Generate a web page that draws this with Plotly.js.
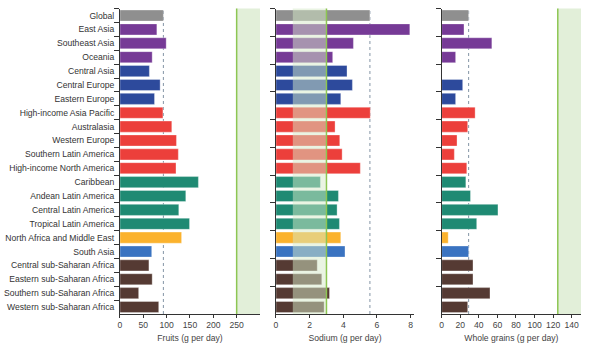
<!DOCTYPE html>
<html><head><meta charset="utf-8">
<script src="https://cdn.plot.ly/plotly-3.0.1.min.js"></script>
<style>html,body{margin:0;padding:0;background:#fff}#c{width:594px;height:353px}</style>
</head><body><div id="c"></div>
<script>
const regions = ["Global","East Asia","Southeast Asia","Oceania","Central Asia","Central Europe","Eastern Europe",
"High-income Asia Pacific","Australasia","Western Europe","Southern Latin America","High-income North America",
"Caribbean","Andean Latin America","Central Latin America","Tropical Latin America","North Africa and Middle East",
"South Asia","Central sub-Saharan Africa","Eastern sub-Saharan Africa","Southern sub-Saharan Africa","Western sub-Saharan Africa"];
const superRegion = ["global","seao","seao","seao","cee","cee","cee","hi","hi","hi","hi","hi",
"latin","latin","latin","latin","name","sa","ssa","ssa","ssa","ssa"];
const fruits = [93,79,99,69,63,86,74,92,111,121,125,120,168,141,126,149,132,68,62,69,40,83];
const sodium = [5.58,7.95,4.6,3.37,4.22,4.54,3.85,5.6,3.51,3.79,3.93,5.01,2.64,3.71,3.63,3.77,3.85,4.1,2.45,2.72,3.18,2.86];
const wholeGrains = [29,24,54,15,null,22.6,15,36,28,16.5,13.6,27,26,31,60.6,37.7,7,29,33.7,33.7,52,28];
const fruitTicks = [0,50,100,150,200,250];
const sodiumTicks = [0,2,4,6,8];
const grainTicks = [0,20,40,60,80,100,120,140];
const fruitOptimal = [250,300];
const sodiumOptimal = [1,3];
const grainOptimal = [125,150];

const palette = {global:"#8f8f8f",seao:"#763a96",cee:"#2d4a9c",hi:"#ec3f3b",latin:"#1f8a73",name:"#fbb22d",sa:"#3a73c1",ssa:"#553a33"};
const colors = superRegion.map(g=>palette[g]);
const font = "Liberation Sans, Arial, sans-serif";

function bar(x, xa, ya){
  return {type:"bar",orientation:"h",y:regions,x:x,xaxis:xa,yaxis:ya,width:0.8,
    marker:{color:colors,line:{color:"rgba(255,255,255,0.55)",width:0.6}},hoverinfo:"skip",showlegend:false};
}
const traces=[bar(fruits,"x","y"),bar(sodium,"x2","y2"),bar(wholeGrains,"x3","y3")];

const yDom=[0.1105,0.9756];
function yax(showLabels){
  return {domain:yDom,type:"category",categoryorder:"array",categoryarray:regions,autorange:"reversed",
    showline:true,linecolor:"#333",linewidth:1,ticks:"outside",ticklen:5,tickcolor:"#333",tickson:"boundaries",
    ticklabelstandoff:3,
    showticklabels:showLabels,tickfont:{family:font,size:8.6,color:"#333"},showgrid:false,zeroline:false,fixedrange:true};
}
function xax(dom,range,tv,title,anchor){
  return {domain:dom,range:range,anchor:anchor,tickvals:tv,ticktext:tv.map(String),showline:true,linecolor:"#333",linewidth:1,
    ticks:"outside",ticklen:3,tickcolor:"#333",tickfont:{family:font,size:8.6,color:"#444"},showgrid:false,zeroline:false,
    title:{text:title,font:{family:font,size:8.6,color:"#444"},standoff:5}};
}
const layout={width:594,height:353,margin:{l:0,r:0,t:0,b:0},paper_bgcolor:"#fff",plot_bgcolor:"rgba(0,0,0,0)",
  bargap:0.2,
  xaxis:xax([0.2020,0.4377],[0,300],fruitTicks,"Fruits (g per day)","y"),
  yaxis:yax(true),
  xaxis2:xax([0.4646,0.6970],[0,8.2],sodiumTicks,"Sodium (g per day)","y2"),
  yaxis2:Object.assign(yax(false),{anchor:"x2"}),
  xaxis3:xax([0.7436,0.9781],[0,150],grainTicks,"Whole grains (g per day)","y3"),
  yaxis3:Object.assign(yax(false),{anchor:"x3"}),
  shapes:[]
};
layout.yaxis.anchor="x";
const sh=layout.shapes;
sh.push({type:"rect",xref:"x",yref:"y domain",x0:fruitOptimal[0],x1:fruitOptimal[1],y0:0,y1:1,fillcolor:"#e2efd9",line:{width:0},layer:"below"});
sh.push({type:"line",xref:"x",yref:"y domain",x0:fruitOptimal[0],x1:fruitOptimal[0],y0:0,y1:1,line:{color:"#8dc653",width:1.5},layer:"below"});
sh.push({type:"rect",xref:"x3",yref:"y3 domain",x0:grainOptimal[0],x1:grainOptimal[1],y0:0,y1:1,fillcolor:"#e2efd9",line:{width:0},layer:"below"});
sh.push({type:"line",xref:"x3",yref:"y3 domain",x0:grainOptimal[0],x1:grainOptimal[0],y0:0,y1:1,line:{color:"#8dc653",width:1.5},layer:"below"});
[["x","y",fruits[0]],["x2","y2",sodium[0]],["x3","y3",wholeGrains[0]]].forEach(([xr,yr,v])=>{
  sh.push({type:"line",xref:xr,yref:yr+" domain",x0:v,x1:v,y0:0,y1:1,line:{color:"#8394a5",width:1,dash:"dot"},layer:"below"});
});
sh.push({type:"rect",xref:"x2",yref:"y2 domain",x0:sodiumOptimal[0],x1:sodiumOptimal[1],y0:0,y1:1,fillcolor:"rgba(214,234,200,0.5)",line:{width:0},layer:"above"});
sh.push({type:"line",xref:"x2",yref:"y2 domain",x0:sodiumOptimal[1],x1:sodiumOptimal[1],y0:0,y1:1,line:{color:"#8dc653",width:1.5},layer:"above"});

Plotly.newPlot("c",traces,layout,{staticPlot:true,displayModeBar:false});
</script></body></html>
